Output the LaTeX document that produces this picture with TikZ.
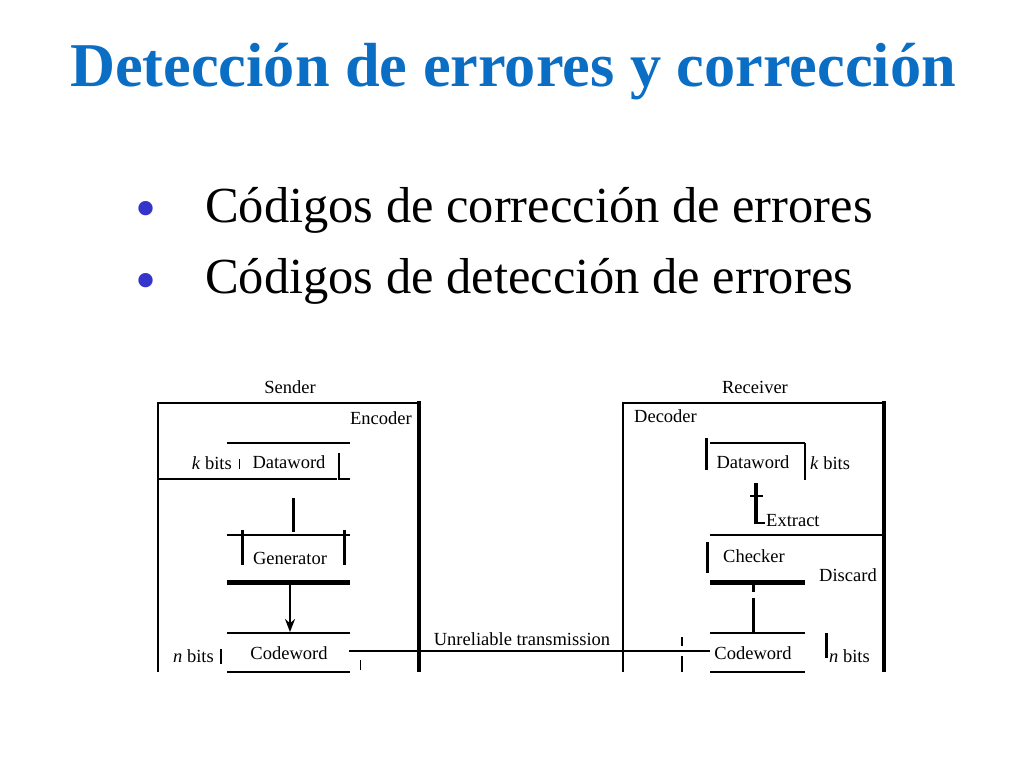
\documentclass[tikz,border=0pt]{standalone}
\usepackage{fontspec}
\setmainfont{Liberation Serif}
\usetikzlibrary{arrows.meta}
\definecolor{titleblue}{HTML}{0A6EC4}
\definecolor{bulletblue}{HTML}{3535CC}
\begin{document}
\begin{tikzpicture}[x=1pt,y=-1pt,
  lbl/.style={inner sep=0pt,font=\fontsize{18.5}{20}\selectfont,anchor=base},
  thinln/.style={line width=1.8pt},
  midln/.style={line width=3pt},
  thickln/.style={line width=5pt},
  bullettext/.style={inner sep=0pt,anchor=base west,font=\fontsize{50.5}{56}\selectfont},
  bulletdot/.style={inner sep=0pt,anchor=base,text=bulletblue,font=\fontsize{60}{66}\selectfont}]
\useasboundingbox[fill=white] (0,0) rectangle (1024,768);
% title
\node[inner sep=0pt,anchor=base,text=titleblue,font=\fontsize{62.3}{68}\bfseries\selectfont] (title) at (513,86) {Detección de errores y corrección};
% bullets
\node[bulletdot] (b1) at (146,228) {•};
\node[bullettext] (t1) at (205,222) {Códigos de corrección de errores};
\node[bulletdot] (b2) at (146,300) {•};
\node[bullettext] (t2) at (205,293) {Códigos de detección de errores};
% ---------------- Sender ----------------
\node[lbl] (sender) at (290,393) {Sender};
\draw[thinln] (158,672) -- (158,403) -- (419,403);
\draw[line width=4.5pt] (419,401) -- (419,672);
\node[lbl,anchor=base east] (encoder) at (412,424) {Encoder};
% dataword (sender)
\draw[thinln] (227,443) -- (350,443);
\draw[thinln] (158,479) -- (337,479);
\draw[thinln] (339,453) -- (339,479) -- (350,479);
\node[lbl,anchor=base east] (kbits1) at (232,469) {\textit{k} bits};
\node[lbl] (dw1) at (289,468) {Dataword};
\draw[line width=0.9pt] (239,459) -- (239,469);
% to generator
\draw[midln] (293,498) -- (293,532);
\draw[thinln] (227,535) -- (350,535);
\draw[midln] (242,530) -- (242,565);
\draw[midln] (344,530) -- (344,565);
\node[lbl] (gen) at (290,564) {Generator};
\draw[thickln] (227,582) -- (350,582);
% codeword (sender)
\coordinate (arrtop) at (290,584);
\draw[thinln] (227,633) -- (350,633);
\draw[thinln] (227,672) -- (350,672);
\node[lbl] (cw1) at (289,659) {Codeword};
\draw[line width=2pt,-{Stealth[length=13pt,width=10pt]}] (arrtop) -- (290,632);
\node[lbl,anchor=base east] (nbits1) at (214,662) {\textit{n} bits};
\draw[line width=1.4pt] (221,649) -- (221,664);
\draw[line width=0.9pt] (360,660) -- (360,670);
% ---------------- transmission ----------------
\coordinate (txs) at (349,651);
\coordinate (txe) at (710,651);
\draw[thinln] (txs) -- (txe);
\node[lbl] (unrel) at (522,645) {Unreliable transmission};
% ---------------- Receiver ----------------
\node[lbl] (receiver) at (755,393) {Receiver};
\draw[thinln] (623,672) -- (623,403) -- (884,403);
\draw[line width=4.5pt] (884,401) -- (884,672);
\node[lbl,anchor=base west] (decoder) at (634,422) {Decoder};
% dataword (receiver)
\draw[thinln] (710,443) -- (805,443);
\draw[midln] (706,438) -- (706,470);
\draw[thinln] (805,443) -- (805,480);
\node[lbl] (dw2) at (753,468) {Dataword};
\node[lbl,anchor=base west] (kbits2) at (810,469) {\textit{k} bits};
% extract arrow
\draw[line width=4.5pt] (756,483) -- (756,524);
\draw[line width=2.8pt] (750,496) -- (763,496);
\draw[line width=2.8pt] (755,523) -- (765,523);
\node[lbl,anchor=base west] (extract) at (766,526) {Extract};
\draw[thinln] (710,535) -- (884,535);
% checker
\draw[midln] (707,542) -- (707,573);
\node[lbl] (checker) at (754,562) {Checker};
\node[lbl] (discard) at (848,581) {Discard};
\draw[thickln] (710,582) -- (805,582);
\draw[midln] (753,582) -- (753,592);
\draw[midln] (753,598) -- (753,632);
% codeword (receiver)
\draw[thinln] (710,633) -- (805,633);
\draw[thinln] (710,672) -- (805,672);
\node[lbl] (cw2) at (753,659) {Codeword};
\draw[midln] (826,633) -- (826,658);
\node[lbl,anchor=base west] (nbits2) at (829,662) {\textit{n} bits};
\draw[line width=1.2pt] (682,637) -- (682,646);
\draw[line width=1.2pt] (682,656) -- (682,672);
\end{tikzpicture}
\end{document}
